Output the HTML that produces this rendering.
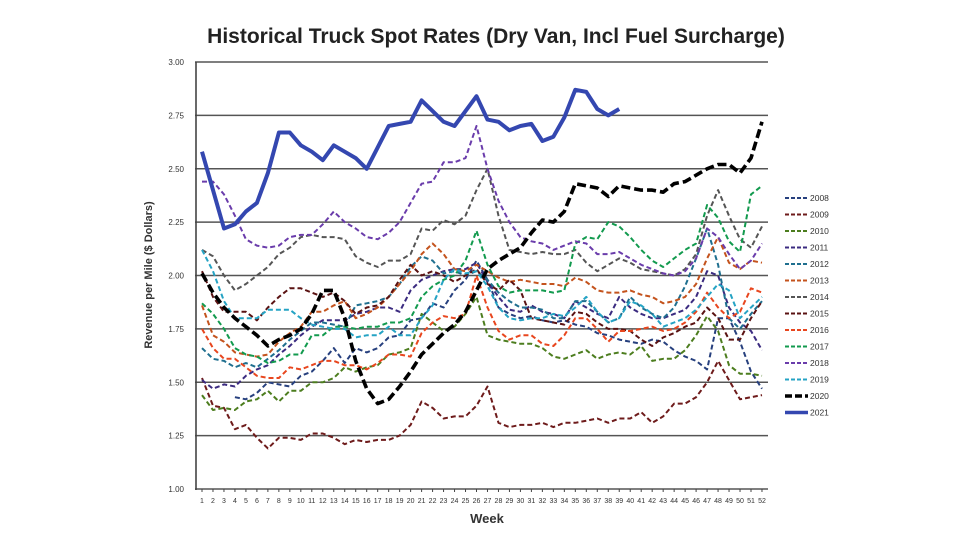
<!DOCTYPE html>
<html><head><meta charset="utf-8">
<style>
html,body{margin:0;padding:0;background:#fff;}
svg{display:block;font-family:"Liberation Sans",sans-serif;}
</style></head>
<body>
<svg id="chart" width="980" height="552" viewBox="0 0 980 552" xmlns="http://www.w3.org/2000/svg">
<text x="496" y="43" text-anchor="middle" font-size="21" font-weight="bold" fill="#222">Historical Truck Spot Rates (Dry Van, Incl Fuel Surcharge)</text>
<text transform="translate(152,275) rotate(-90)" text-anchor="middle" font-size="11" font-weight="bold" fill="#333">Revenue per Mile ($ Dollars)</text>
<text x="487" y="523" text-anchor="middle" font-size="13" font-weight="bold" fill="#333">Week</text>
<g id="grid"></g><g id="series"></g><g id="legend"></g>
</svg>
<script>
const years=["2008","2009","2010","2011","2012","2013","2014","2015","2016","2017","2018","2019","2020","2021"];
const yTicks=[1.00,1.25,1.50,1.75,2.00,2.25,2.50,2.75,3.00];
const s2008=[null,null,null,1.43,1.42,1.45,1.50,1.49,1.48,1.53,1.55,1.60,1.66,1.59,1.66,1.64,1.66,1.71,1.72,1.79,1.80,1.87,1.85,1.93,1.98,2.07,1.98,1.85,1.82,1.80,1.81,1.79,1.78,1.79,1.77,1.76,1.73,1.72,1.70,1.69,1.68,1.70,1.69,1.65,1.62,1.60,1.56,1.80,1.80,1.69,1.55,1.47];
const s2009=[1.52,1.39,1.38,1.28,1.30,1.24,1.19,1.24,1.24,1.23,1.26,1.26,1.24,1.21,1.23,1.22,1.23,1.23,1.25,1.30,1.41,1.38,1.33,1.34,1.34,1.39,1.48,1.31,1.29,1.30,1.30,1.31,1.29,1.31,1.31,1.32,1.33,1.31,1.33,1.33,1.36,1.31,1.34,1.40,1.40,1.43,1.50,1.60,1.51,1.42,1.43,1.44];
const s2010=[1.44,1.37,1.38,1.37,1.41,1.42,1.46,1.41,1.46,1.46,1.50,1.50,1.52,1.57,1.55,1.57,1.58,1.63,1.64,1.66,1.82,1.78,1.74,1.76,1.82,1.90,1.72,1.70,1.69,1.68,1.68,1.66,1.62,1.61,1.63,1.65,1.61,1.63,1.64,1.63,1.67,1.60,1.61,1.61,1.65,1.72,1.81,1.74,1.58,1.54,1.54,1.53];
const s2011=[1.51,1.47,1.49,1.48,1.53,1.56,1.58,1.63,1.67,1.72,1.76,1.79,1.79,1.79,1.82,1.83,1.85,1.85,1.83,1.93,1.98,2.00,2.02,2.03,2.03,2.06,1.97,1.90,1.84,1.83,1.86,1.83,1.82,1.80,1.88,1.85,1.82,1.80,1.90,1.85,1.82,1.80,1.80,1.82,1.84,1.90,2.02,2.00,1.85,1.78,1.74,1.65];
const s2012=[1.66,1.61,1.60,1.57,1.59,1.57,1.61,1.65,1.70,1.74,1.78,1.78,1.77,1.76,1.86,1.87,1.88,1.90,1.96,2.04,2.09,2.07,2.01,2.02,2.00,2.02,1.98,1.92,1.88,1.85,1.85,1.84,1.80,1.80,1.88,1.88,1.83,1.78,1.80,1.90,1.85,1.82,1.80,1.85,1.95,2.08,2.22,2.05,1.80,1.75,1.82,1.88];
const s2013=[1.86,1.72,1.69,1.64,1.63,1.62,1.63,1.69,1.73,1.76,1.83,1.83,1.86,1.88,1.80,1.82,1.85,1.90,1.96,2.02,2.10,2.15,2.10,2.03,2.02,2.05,2.02,1.99,1.97,1.98,1.97,1.96,1.96,1.95,1.99,1.97,1.93,1.92,1.92,1.93,1.91,1.90,1.87,1.88,1.90,1.96,2.08,2.18,2.06,2.03,2.07,2.06];
const s2014=[2.12,2.09,2.00,1.93,1.96,2.00,2.04,2.10,2.13,2.18,2.19,2.18,2.18,2.17,2.09,2.06,2.04,2.07,2.07,2.10,2.22,2.21,2.26,2.24,2.28,2.40,2.50,2.28,2.12,2.11,2.10,2.11,2.10,2.10,2.12,2.06,2.02,2.05,2.08,2.06,2.03,2.02,2.01,2.00,2.03,2.10,2.28,2.40,2.28,2.17,2.13,2.23];
const s2015=[2.02,1.90,1.83,1.83,1.83,1.79,1.85,1.90,1.94,1.94,1.92,1.90,1.92,1.88,1.82,1.85,1.86,1.90,1.98,2.05,2.00,2.02,2.00,1.97,2.00,2.03,1.96,1.93,1.98,1.93,1.80,1.79,1.78,1.77,1.83,1.82,1.78,1.75,1.75,1.74,1.70,1.67,1.71,1.73,1.76,1.78,1.85,1.80,1.70,1.70,1.80,1.88];
const s2016=[1.75,1.66,1.61,1.61,1.57,1.53,1.52,1.52,1.57,1.56,1.58,1.60,1.60,1.58,1.58,1.56,1.59,1.63,1.63,1.62,1.73,1.78,1.81,1.80,1.82,2.00,1.85,1.74,1.70,1.72,1.72,1.68,1.67,1.72,1.80,1.80,1.75,1.69,1.74,1.74,1.75,1.76,1.74,1.75,1.78,1.83,1.92,1.85,1.80,1.83,1.94,1.92];
const s2017=[1.87,1.82,1.75,1.66,1.63,1.62,1.59,1.60,1.63,1.63,1.72,1.72,1.76,1.76,1.75,1.76,1.76,1.78,1.78,1.80,1.90,1.95,1.98,2.00,2.07,2.21,2.05,1.95,1.92,1.93,1.93,1.93,1.92,1.93,2.15,2.18,2.17,2.25,2.23,2.18,2.12,2.07,2.04,2.08,2.12,2.15,2.33,2.27,2.16,2.11,2.38,2.42];
const s2018=[2.44,2.44,2.38,2.28,2.17,2.14,2.13,2.14,2.18,2.19,2.19,2.24,2.30,2.25,2.22,2.18,2.17,2.20,2.25,2.34,2.43,2.44,2.53,2.53,2.55,2.70,2.50,2.35,2.25,2.18,2.16,2.15,2.12,2.14,2.16,2.15,2.10,2.10,2.11,2.08,2.05,2.03,2.01,2.00,2.02,2.08,2.22,2.18,2.10,2.03,2.07,2.15];
const s2019=[2.12,2.02,1.88,1.80,1.80,1.80,1.84,1.84,1.84,1.80,1.77,1.76,1.75,1.75,1.71,1.72,1.72,1.76,1.72,1.72,1.80,1.86,1.98,2.03,2.01,2.02,1.95,1.85,1.80,1.79,1.80,1.80,1.82,1.81,1.85,1.90,1.83,1.78,1.80,1.88,1.86,1.82,1.76,1.78,1.80,1.84,1.90,1.96,1.93,1.80,1.85,1.90];
const s2020=[2.01,1.92,1.85,1.80,1.76,1.72,1.67,1.70,1.72,1.75,1.82,1.93,1.93,1.80,1.60,1.47,1.40,1.42,1.48,1.55,1.63,1.68,1.73,1.77,1.83,1.93,2.03,2.07,2.10,2.13,2.20,2.26,2.25,2.30,2.43,2.42,2.41,2.37,2.42,2.41,2.40,2.40,2.39,2.43,2.44,2.47,2.50,2.52,2.52,2.48,2.55,2.72];
const s2021=[2.58,2.40,2.22,2.24,2.30,2.34,2.48,2.67,2.67,2.61,2.58,2.54,2.61,2.58,2.55,2.50,2.60,2.70,2.71,2.72,2.82,2.77,2.72,2.70,2.77,2.84,2.73,2.72,2.68,2.70,2.71,2.63,2.65,2.74,2.87,2.86,2.78,2.75,2.78];

const allSeries=[s2008,s2009,s2010,s2011,s2012,s2013,s2014,s2015,s2016,s2017,s2018,s2019,s2020,s2021];
const colors=["#27407e","#6e1b1b","#4c7d1e","#3b2b80","#1f6f8f","#c4531d","#555555","#5a1212","#e8461e","#129a4e","#6a3cab","#25a3c4","#000000","#3447b0"];
const NS="http://www.w3.org/2000/svg";
const X0=202, XW=10.98, Y1=489, YS=213.5;
function xs(w){return X0+(w-1)*XW;}
function ys(v){return Y1-(v-1)*YS;}
function mk(tag,attrs,parent){const e=document.createElementNS(NS,tag);for(const k in attrs)e.setAttribute(k,attrs[k]);parent.appendChild(e);return e;}
const grid=document.getElementById('grid');
yTicks.forEach(t=>{
  const l=mk('line',{x1:195,x2:768,y1:ys(t),y2:ys(t),stroke:'#555','stroke-width':1.6},grid);
  
  
  const tx=mk('text',{x:184,y:ys(t)+3,'text-anchor':'end','font-size':8,fill:'#333'},grid);
  tx.textContent=t.toFixed(2);
  
  
});
const ax=mk('line',{x1:196,x2:196,y1:62,y2:490,stroke:'#444','stroke-width':1.6},grid);


for(let w=1;w<=52;w++){
  mk('line',{x1:xs(w),x2:xs(w),y1:489,y2:492,stroke:'#444','stroke-width':1},grid);
  const tx=mk('text',{x:xs(w),y:503,'text-anchor':'middle','font-size':7,fill:'#333'},grid);
  tx.textContent=w;
  
  
}
const sg=document.getElementById('series');
allSeries.forEach((s,i)=>{
  let d='';let pen=false;
  s.forEach((v,j)=>{if(v==null){pen=false;return;}d+=(pen?'L':'M')+xs(j+1).toFixed(1)+' '+ys(v).toFixed(1);pen=true;});
  const is20=i===12,is21=i===13;
  const p=mk('path',{d:d,fill:'none',stroke:colors[i],'stroke-width':is21?4:(is20?3.6:2),'stroke-dasharray':is21?'none':(is20?'9 4':'5 3'),'stroke-linejoin':'round'},sg);
  
  
});
const lg=document.getElementById('legend');
years.forEach((y,i)=>{
  const yy=198+i*16.5;
  const is20=i===12,is21=i===13;
  const l=mk('line',{x1:785,x2:808,y1:yy,y2:yy,stroke:colors[i],'stroke-width':is21?3.5:(is20?3.5:2),'stroke-dasharray':is21?'none':(is20?'7 3':'4 2')},lg);
  
  
  const t=mk('text',{x:810,y:yy+3,'font-size':8.5,fill:'#333'},lg);
  t.textContent=y;
  
  
});
</script>
</body></html>
